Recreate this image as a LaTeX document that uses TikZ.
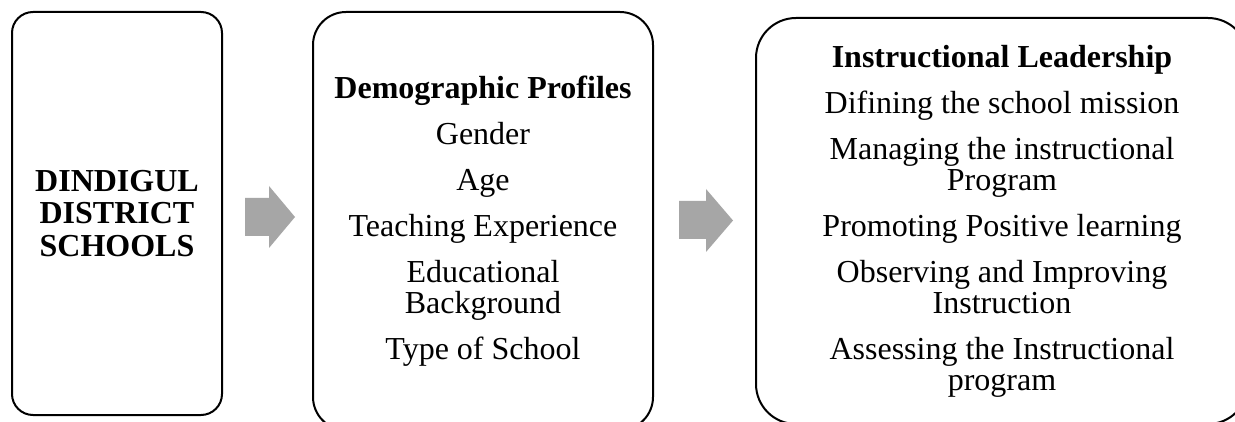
\documentclass[tikz,border=0pt]{standalone}
\usepackage{fontspec}
\setmainfont{Liberation Serif}
\definecolor{arrowgray}{RGB}{166,166,166}
\begin{document}
\begin{tikzpicture}[x=1pt,y=-1pt,
  box/.style={draw=black, line width=2pt, fill=white, align=center, inner sep=0pt},
  bodytext/.style={font=\fontsize{32}{31}\selectfont},
  blockarrow/.style={fill=arrowgray, draw=none}]
\useasboundingbox (0,0) rectangle (1235,422);
\clip (0,0) rectangle (1235,422);
\fill[white] (0,0) rectangle (1235,422);
\node[box, rounded corners=21pt, minimum width=210pt, minimum height=403pt,
  font=\fontsize{32}{32.5}\selectfont\bfseries] (schools) at (117,213.5)
  {DINDIGUL\\DISTRICT\\SCHOOLS};
\node[box, bodytext, rounded corners=33pt, minimum width=340pt, minimum height=418pt] (demo) at (483,221)
  {\textbf{Demographic Profiles}\\[15pt]Gender\\[15pt]Age\\[15pt]Teaching Experience\\[15pt]Educational\\Background\\[15pt]Type of School};
\node[box, bodytext, rounded corners=40pt, minimum width=492pt, minimum height=406pt] (lead) at (1002,221)
  {\textbf{Instructional Leadership}\\[15pt]Difining the school mission\\[15pt]Managing the instructional\\Program\\[15pt]Promoting Positive learning\\[15pt]Observing and Improving\\Instruction\\[15pt]Assessing the Instructional\\program};
% block arrows between the boxes
\fill[blockarrow] (245,198) -- (269,198) -- (269,186) -- (295,217) -- (269,248) -- (269,236) -- (245,236) -- cycle;
\fill[blockarrow] (679,201) -- (706,201) -- (706,189) -- (733,220.5) -- (706,252) -- (706,239) -- (679,239) -- cycle;
\end{tikzpicture}
\end{document}
